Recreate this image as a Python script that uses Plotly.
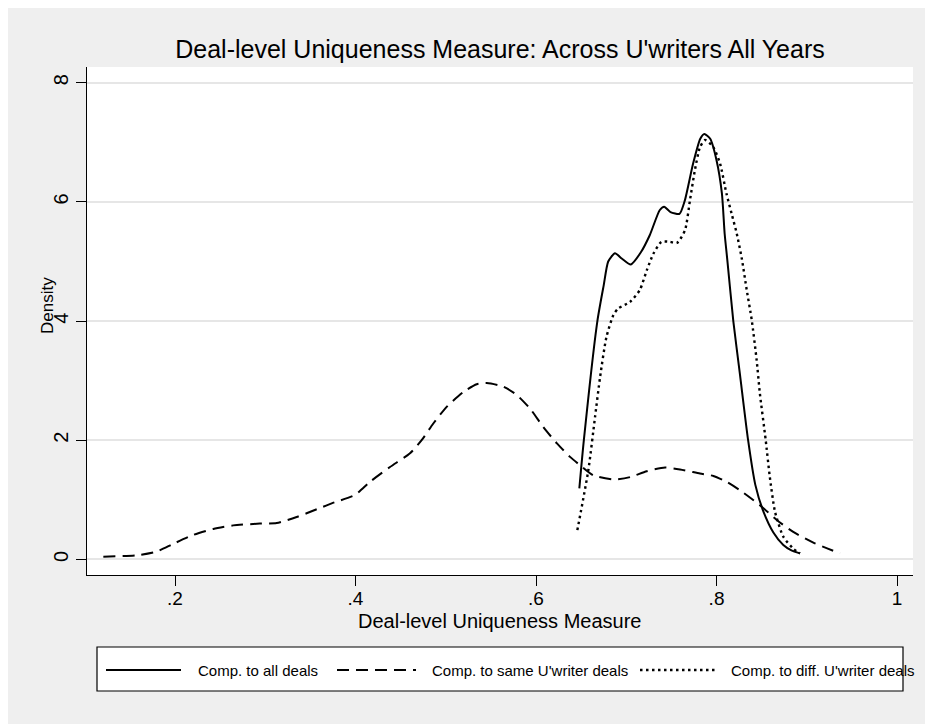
import plotly.graph_objects as go

# ---- data: kernel density estimates of the deal-level uniqueness measure ----
x_all = [0.648, 0.653, 0.668, 0.675, 0.680, 0.6875, 0.695, 0.705, 0.716, 0.726,
         0.737, 0.742, 0.749, 0.759, 0.765, 0.774, 0.782, 0.7865, 0.793, 0.800,
         0.806, 0.809, 0.812, 0.8186, 0.826, 0.835, 0.843, 0.852, 0.863, 0.874,
         0.883, 0.8925]
y_all = [1.19, 2.00, 4.00, 4.60, 5.00, 5.14, 5.05, 4.95, 5.15, 5.44,
         5.86, 5.92, 5.83, 5.80, 6.03, 6.64, 7.06, 7.14, 7.06, 6.70,
         6.14, 5.47, 5.02, 4.00, 3.10, 2.00, 1.25, 0.80, 0.45, 0.24,
         0.15, 0.10]

x_same = [0.1206, 0.1576, 0.1797, 0.198, 0.2203, 0.2424, 0.2646, 0.294, 0.3127, 0.3348,
          0.357, 0.3736, 0.3994, 0.416, 0.4382, 0.4604, 0.4733, 0.4862, 0.501, 0.5195,
          0.5343, 0.5454, 0.5638, 0.5786, 0.5934, 0.6081, 0.6229, 0.6377, 0.6488, 0.6635,
          0.6875, 0.7042, 0.7227, 0.743, 0.7596, 0.7817, 0.7965, 0.8113, 0.826, 0.848,
          0.8667, 0.885, 0.9073, 0.9368]
y_same = [0.044, 0.067, 0.13, 0.26, 0.41, 0.51, 0.57, 0.60, 0.61, 0.71,
          0.84, 0.94, 1.08, 1.30, 1.55, 1.78, 2.00, 2.28, 2.56, 2.81,
          2.94, 2.96, 2.90, 2.76, 2.53, 2.22, 1.95, 1.72, 1.58, 1.41,
          1.34, 1.38, 1.48, 1.54, 1.51, 1.44, 1.40, 1.30, 1.16, 0.91,
          0.66, 0.46, 0.28, 0.10]

x_diff = [0.6458, 0.658, 0.6654, 0.671, 0.678, 0.6857, 0.691, 0.704, 0.715, 0.7227,
          0.730, 0.739, 0.7485, 0.756, 0.765, 0.7706, 0.776, 0.7817, 0.7873, 0.7965,
          0.804, 0.811, 0.8168, 0.8224, 0.828, 0.8335, 0.839, 0.8445, 0.848, 0.8545,
          0.859, 0.8648, 0.874, 0.885, 0.8925]
y_diff = [0.49, 1.50, 2.39, 3.06, 3.73, 4.10, 4.21, 4.32, 4.52, 4.85,
          5.13, 5.33, 5.33, 5.31, 5.52, 6.03, 6.53, 6.92, 7.04, 6.92,
          6.64, 6.14, 5.80, 5.47, 5.05, 4.52, 4.02, 3.34, 2.79, 2.00,
          1.39, 0.80, 0.38, 0.18, 0.10]

series_names = ["Comp. to all deals", "Comp. to same U'writer deals",
                "Comp. to diff. U'writer deals"]
x_tickvals = [0.2, 0.4, 0.6, 0.8, 1.0]
x_ticktext = [".2", ".4", ".6", ".8", "1"]
y_tickvals = [0, 2, 4, 6, 8]
y_ticktext = ["0", "2", "4", "6", "8"]

title_text = "Deal-level Uniqueness Measure: Across U'writers All Years"
x_title = "Deal-level Uniqueness Measure"
y_title = "Density"

# ---- page geometry (pixels) ----
W, H = 925, 724
L, R, T, B = 87, 913, 67, 575
PW, PH = R - L, B - T
FONT = "Liberation Sans, Arial, Helvetica, sans-serif"
GREY = "#efefef"

DASH = "12px,7px"
DOT = "2.5px,3.5px"
styles = [dict(color="black", width=2),
          dict(color="black", width=2, dash=DASH),
          dict(color="black", width=2.4, dash=DOT)]


def px_x(px):
    return (px - L) / PW


def px_y(py):
    return (B - py) / PH


fig = go.Figure()
for xs, ys, st, nm in zip([x_all, x_same, x_diff], [y_all, y_same, y_diff],
                          styles, series_names):
    fig.add_trace(go.Scatter(x=xs, y=ys, mode="lines", name=nm,
                             line=dict(shape="spline", smoothing=0.6, **st),
                             showlegend=False, hoverinfo="skip"))

shapes = []
# white border strips on the top and left of the grey graph region
shapes.append(dict(type="rect", xref="paper", yref="paper", layer="below",
                   x0=px_x(0), x1=px_x(8), y0=px_y(H), y1=px_y(0),
                   fillcolor="white", line=dict(width=0)))
shapes.append(dict(type="rect", xref="paper", yref="paper", layer="below",
                   x0=px_x(0), x1=px_x(W), y0=px_y(8), y1=px_y(0),
                   fillcolor="white", line=dict(width=0)))

# legend box
shapes.append(dict(type="rect", xref="paper", yref="paper",
                   x0=px_x(97), x1=px_x(903), y0=px_y(691), y1=px_y(647),
                   fillcolor="white", line=dict(color="black", width=1.2)))
legend_y = 670
sample_x = [(106, 181), (337, 416), (640, 716)]
text_x = [196, 430, 729]
annotations = []
for (a, b), tx, st, nm in zip(sample_x, text_x, styles, series_names):
    shapes.append(dict(type="line", xref="paper", yref="paper",
                       x0=px_x(a), x1=px_x(b), y0=px_y(legend_y), y1=px_y(legend_y),
                       line=st))
    annotations.append(dict(text=nm, xref="paper", yref="paper",
                            x=px_x(tx), y=px_y(legend_y), xanchor="left",
                            yanchor="middle", showarrow=False,
                            font=dict(size=15, family=FONT, color="black")))

# axis titles
annotations.append(dict(text=x_title, xref="paper", yref="paper",
                        x=px_x(499), y=px_y(621), xanchor="center", yanchor="middle",
                        showarrow=False, font=dict(size=20, family=FONT, color="black")))
annotations.append(dict(text=y_title, xref="paper", yref="paper",
                        x=px_x(47), y=px_y(306), xanchor="center", yanchor="middle",
                        textangle=-90, showarrow=False,
                        font=dict(size=17, family=FONT, color="black")))

fig.update_layout(
    width=W, height=H,
    margin=dict(l=L, r=W - R, t=T, b=H - B, pad=0),
    paper_bgcolor=GREY, plot_bgcolor="white",
    font=dict(family=FONT, color="black"),
    title=dict(text=title_text, x=0.5, xref="paper", xanchor="center",
               y=1 - 49 / H, yref="container", yanchor="middle",
               font=dict(size=25, family=FONT, color="black")),
    xaxis=dict(range=[0.1025, 1.0177], tickmode="array", tickvals=x_tickvals,
               ticktext=x_ticktext, showgrid=False, zeroline=False,
               showline=True, linecolor="black", linewidth=1.3,
               ticks="outside", ticklen=10, tickwidth=1.3, tickcolor="black",
               ticklabelstandoff=-4,
               tickfont=dict(size=19, family=FONT, color="black")),
    yaxis=dict(range=[-0.263, 8.265], tickmode="array", tickvals=y_tickvals,
               ticktext=y_ticktext, tickangle=-90, showgrid=True,
               gridcolor="#e6e6e6", gridwidth=1.5, zeroline=False,
               showline=True, linecolor="black", linewidth=1.3,
               ticks="outside", ticklen=10, tickwidth=1.3, tickcolor="black",
               tickfont=dict(size=20, family=FONT, color="black")),
    shapes=shapes, annotations=annotations, showlegend=False,
)

fig.write_html("out.html")
